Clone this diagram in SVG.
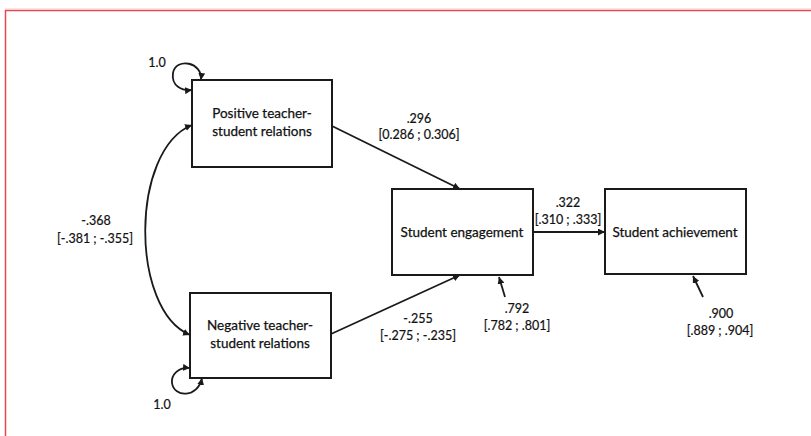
<svg xmlns="http://www.w3.org/2000/svg" width="811" height="436" viewBox="0 0 811 436">
<defs>
<marker id="ah" viewBox="0 0 10 10" refX="10" refY="5" markerWidth="7" markerHeight="7" markerUnits="userSpaceOnUse" orient="auto-start-reverse">
<path d="M0,0 L10,5 L0,10 z" fill="#1a1a1a"/>
</marker>
</defs>
<style>
.box{fill:#fff;stroke:#1a1a1a;stroke-width:2}
.lbl{font-family:Lato,"Open Sans",sans-serif;font-size:13.5px;fill:#111;text-anchor:middle;stroke:#111;stroke-width:0.25}
.num{font-family:Lato,"Open Sans",sans-serif;font-size:12.5px;fill:#111;text-anchor:middle;stroke:#111;stroke-width:0.2}
.edge{fill:none;stroke:#1a1a1a;stroke-width:1.8}
</style>
<rect width="811" height="436" fill="#fff"/>
<path d="M5.5 436 V10.5 H811" fill="none" stroke="#e8474f" stroke-width="1.5"/>
<path d="M5 9 H811" fill="none" stroke="#f7c6c8" stroke-width="1"/>

<g id="connectors">
<path class="edge" d="M332 126 L460 189" marker-end="url(#ah)"/>
<path class="edge" d="M331 334 L460 275" marker-end="url(#ah)"/>
<path class="edge" d="M533 232 L605 232" marker-end="url(#ah)"/>
<path class="edge" d="M505 297 L499 277" marker-end="url(#ah)"/>
<path class="edge" d="M703 297 L693 276" marker-end="url(#ah)"/>
<path class="edge" d="M192 125 C130 150 130 310 190 335" marker-start="url(#ah)" marker-end="url(#ah)"/>
<path class="edge" d="M201 80 C203 62 176 57 173 73 C171 86 182 91 192 90" marker-start="url(#ah)" marker-end="url(#ah)"/>
<path class="edge" d="M190 368 C178 367 171 375 172 383 C174 398 198 398 202 378" marker-start="url(#ah)" marker-end="url(#ah)"/>
</g>

<g id="lbl-cov">
<text class="num" x="96" y="225">-.368</text>
<text class="num" x="95" y="243">[-.381 ; -.355]</text>
</g>
<g id="lbl-var-pos"><text class="num" x="157" y="67">1.0</text></g>
<g id="lbl-var-neg"><text class="num" x="162" y="409">1.0</text></g>
<g id="lbl-pos">
<text class="num" x="419" y="123">.296</text>
<text class="num" x="419" y="139">[0.286 ; 0.306]</text>
</g>
<g id="lbl-neg">
<text class="num" x="418" y="323">-.255</text>
<text class="num" x="418" y="340">[-.275 ; -.235]</text>
</g>
<g id="lbl-eng-ach">
<text class="num" x="568" y="207">.322</text>
<text class="num" x="568" y="224">[.310 ; .333]</text>
</g>
<g id="lbl-res-eng">
<text class="num" x="517" y="313">.792</text>
<text class="num" x="517" y="330">[.782 ; .801]</text>
</g>
<g id="lbl-res-ach">
<text class="num" x="721" y="318">.900</text>
<text class="num" x="720" y="335">[.889 ; .904]</text>
</g>

<g id="node-positive">
<rect class="box" x="192" y="80" width="140" height="87"/>
<text class="lbl" x="262" y="118">Positive teacher-</text>
<text class="lbl" x="262" y="136">student relations</text>
</g>
<g id="node-negative">
<rect class="box" x="190" y="293" width="141" height="85"/>
<text class="lbl" x="260" y="330">Negative teacher-</text>
<text class="lbl" x="260" y="348">student relations</text>
</g>
<g id="node-engagement">
<rect class="box" x="392" y="189" width="141" height="86"/>
<text class="lbl" x="462" y="237">Student engagement</text>
</g>
<g id="node-achievement">
<rect class="box" x="605" y="189" width="141" height="85"/>
<text class="lbl" x="675" y="237">Student achievement</text>
</g>
</svg>
